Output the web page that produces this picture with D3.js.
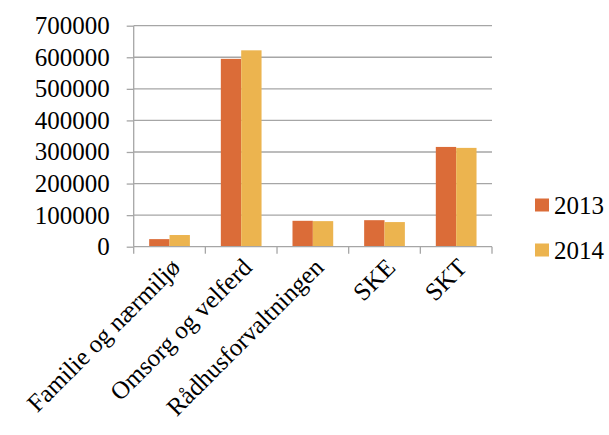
<!DOCTYPE html>
<html>
<head>
<meta charset="utf-8">
<script src="https://cdn.jsdelivr.net/npm/d3@7"></script>
<style>
html,body{margin:0;padding:0;background:#fff;}
svg#chart text, svg#chart g text, #chart .tick text { font-family: "Liberation Serif", Tinos, "Times New Roman", serif !important; }
</style>
</head>
<body>
<svg id="chart" width="609" height="435" style="font-family:'Liberation Serif'"></svg>
<script>
const categories = ["Familie og nærmiljø","Omsorg og velferd","Rådhusforvaltningen","SKE","SKT"];
const seriesNames = ["2013","2014"];
const values2013 = [24000, 595000, 82000, 84000, 316000];
const values2014 = [37000, 622000, 81000, 78000, 313000];
const yTicks = [0,100000,200000,300000,400000,500000,600000,700000];
const colors = ["#DB6C38","#ECB44F"];

const svg = d3.select("#chart");
const plotLeft = 133.7, plotRight = 492, plotTop = 25.7, plotBottom = 246.7;
const fontSize = 25;
const serifFont = "\"Liberation Serif\", Tinos, \"Times New Roman\", serif";

const x = d3.scaleBand().domain(categories).range([plotLeft, plotRight]).paddingInner(0).paddingOuter(0);
const inner = d3.scaleBand().domain(seriesNames).range([0, x.bandwidth()]).paddingInner(0).paddingOuter(0.76);
const y = d3.scaleLinear().domain([0, 700000]).range([plotBottom, plotTop]);

// gridlines
svg.append("g").selectAll("line").data(yTicks.filter(d=>d>0)).join("line")
  .attr("x1", plotLeft).attr("x2", plotRight)
  .attr("y1", d=>y(d)).attr("y2", d=>y(d))
  .attr("stroke","#A6A6A6").attr("stroke-width",1.3);

// y axis
const yAxis = svg.append("g").attr("transform",`translate(${plotLeft},0)`)
  .call(d3.axisLeft(y).tickValues(yTicks).tickSize(7).tickPadding(17).tickFormat(d3.format("d")));
yAxis.attr("font-family", serifFont).attr("font-size", fontSize);
yAxis.select(".domain").attr("stroke","#A6A6A6").attr("stroke-width",1.3).attr("d",`M-0,${plotTop}V${plotBottom}`);
yAxis.selectAll(".tick line").attr("stroke","#A6A6A6").attr("stroke-width",1.3);
yAxis.selectAll(".tick text").attr("font-size",fontSize).attr("font-family",serifFont)
  .style("font-family",serifFont,"important").attr("fill","#000");

// bars
const data = categories.map((c,i)=>({cat:c, vals:[values2013[i], values2014[i]]}));
const groups = svg.append("g").selectAll("g").data(data).join("g")
  .attr("transform", d=>`translate(${x(d.cat)},0)`);
groups.selectAll("rect").data(d=>d.vals.map((v,j)=>({s:seriesNames[j], v, j}))).join("rect")
  .attr("x", d=>inner(d.s)).attr("width", inner.bandwidth())
  .attr("y", d=>y(d.v)).attr("height", d=>y(0)-y(d.v))
  .attr("fill", d=>colors[d.j]);

// x axis
const xAxisG = svg.append("g").attr("font-family", serifFont);
xAxisG.append("line").attr("x1",plotLeft).attr("x2",plotRight).attr("y1",plotBottom).attr("y2",plotBottom)
  .attr("stroke","#A6A6A6").attr("stroke-width",1.3);
const edges = categories.map(c=>x(c)).concat([plotRight]);
xAxisG.selectAll("line.tk").data(edges).join("line").attr("class","tk")
  .attr("x1",d=>d).attr("x2",d=>d).attr("y1",plotBottom).attr("y2",plotBottom+7)
  .attr("stroke","#A6A6A6").attr("stroke-width",1.3);
xAxisG.selectAll("text.lbl").data(categories).join("text").attr("class","lbl")
  .attr("transform", d=>`translate(${x(d)+x.bandwidth()/2+6},${plotBottom+16}) rotate(-45)`)
  .attr("text-anchor","end").attr("dy","0.35em")
  .attr("font-size",fontSize).attr("font-family",serifFont)
  .style("font-family",serifFont,"important").attr("fill","#000").text(d=>d);

// legend
const legend = svg.append("g").attr("font-family", serifFont).selectAll("g").data(seriesNames).join("g")
  .attr("transform",(d,i)=>`translate(535,${205+i*45})`);
legend.append("rect").attr("x",0).attr("y",-6.5).attr("width",14).attr("height",13).attr("fill",(d,i)=>colors[i]);
legend.append("text").attr("x",19).attr("y",0).attr("dy","0.35em").attr("font-size",fontSize)
  .attr("font-family",serifFont).style("font-family",serifFont,"important").attr("fill","#000").text(d=>d);
</script>
</body>
</html>
